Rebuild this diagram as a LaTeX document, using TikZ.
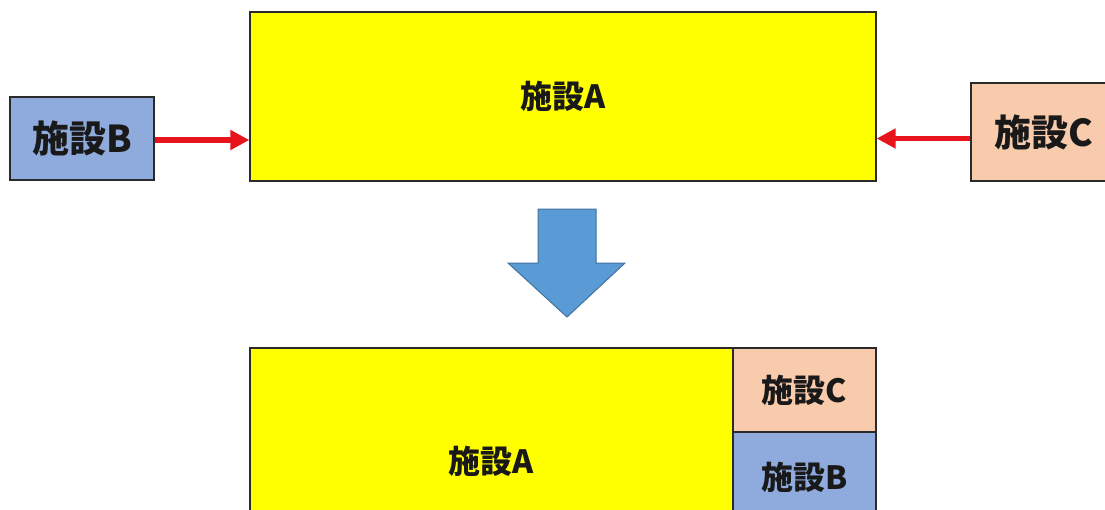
\documentclass[tikz,border=0pt]{standalone}
\usepackage{fontspec}
\newfontfamily\cjk{Noto Sans CJK JP}
\usetikzlibrary{arrows.meta}
\definecolor{facA}{HTML}{FFFF00}
\definecolor{facB}{HTML}{8FAADC}
\definecolor{facC}{HTML}{F8CBAD}
\definecolor{bigarrow}{HTML}{5B9BD5}
\definecolor{bigarrowline}{HTML}{41719C}
\definecolor{edge}{HTML}{2A2A2A}
\definecolor{redline}{HTML}{E8141B}
\tikzset{
  facbox/.style={draw=edge, line width=1.3pt, inner sep=0pt, font=\cjk\bfseries, text=black!90},
  bigtxt/.style={font=\cjk\bfseries\fontsize{37}{40}\selectfont},
  smalltxt/.style={font=\cjk\bfseries\fontsize{32}{35}\selectfont},
  redarrow/.style={draw=redline, line width=5.5pt, -{Triangle[length=19pt,width=19pt]}}
}
\begin{document}
\begin{tikzpicture}[x=1pt,y=-1pt]
\useasboundingbox (0,0) rectangle (1105,509);
\fill[white] (0,0) rectangle (1105,509);
\clip (0,0) rectangle (1105,509);
% top row
\node[facbox, fill=facA, smalltxt, minimum width=626pt, minimum height=169pt] (A1) at (563,96.5) {施設A};
\node[facbox, fill=facB, bigtxt, minimum width=144pt, minimum height=83pt] (B1) at (82,138.5) {施設B};
\node[facbox, fill=facC, bigtxt, minimum width=146pt, minimum height=98pt] (C1) at (1044,132) {施設C};
\path (B1.east) ++(0,1.5) coordinate (b1);
\draw[redarrow] (b1) -- (b1 -| A1.west);
\path (C1.west) ++(0,6.5) coordinate (c1);
\draw[redarrow] (c1) -- (c1 -| A1.east);
% big down arrow
\draw[fill=bigarrow, draw=bigarrowline, line width=1pt]
  (538,209) -- (596,209) -- (596,263) -- (625,263) -- (567,317) -- (508,263) -- (538,263) -- cycle;
% bottom row
\node[facbox, fill=facA, smalltxt, minimum width=483pt, minimum height=226pt] (A2) at (491.5,461) {施設A};
\node[facbox, fill=facC, smalltxt, minimum width=143pt, minimum height=84pt] (C2) at (804.5,390) {施設C};
\node[facbox, fill=facB, smalltxt, minimum width=143pt, minimum height=90pt] (B2) at (804.5,477) {施設B};
\end{tikzpicture}
\end{document}
